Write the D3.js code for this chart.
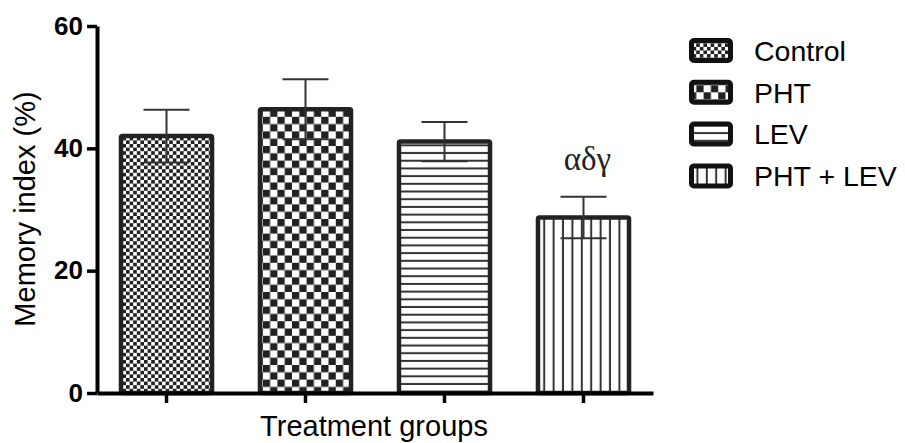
<!DOCTYPE html>
<html>
<head>
<meta charset="utf-8">
<script src="https://cdn.jsdelivr.net/npm/d3@7"></script>
<style>
  body { margin: 0; background: #fff; }
  svg { display: block; }
</style>
</head>
<body>
<div id="chart"></div>
<script>
// data
var groups = ["Control", "PHT", "LEV", "PHT + LEV"];
var means = [42.0, 46.4, 41.1, 28.7];
var errors = [4.3, 4.9, 3.2, 3.4];
var marks = ["", "", "", "αδγ"];
var yTicks = [0, 20, 40, 60];
var patterns = ["fineCheck", "bigCheck", "hLines", "vLines"];

var width = 905;
var height = 443;
var ink = "#222";

var svg = d3.select("#chart").
    append("svg").
    attr("width", width).
    attr("height", height);

// fill patterns
var defs = svg.append("defs");

function checker(id, cell) {
    var p = defs.append("pattern").
        attr("id", id).
        attr("patternUnits", "userSpaceOnUse").
        attr("width", cell * 2).
        attr("height", cell * 2);
    p.append("rect").attr("width", cell * 2).attr("height", cell * 2).attr("fill", "#fff");
    p.append("rect").attr("width", cell).attr("height", cell).attr("fill", ink);
    p.append("rect").attr("x", cell).attr("y", cell).attr("width", cell).attr("height", cell).attr("fill", ink);
}
checker("fineCheck", 3.6);
checker("bigCheck", 7.3);

var ph = defs.append("pattern").
    attr("id", "hLines").
    attr("patternUnits", "userSpaceOnUse").
    attr("width", 10).
    attr("height", 7.7);
ph.append("rect").attr("width", 10).attr("height", 7.7).attr("fill", "#fff");
ph.append("rect").attr("y", 5.7).attr("width", 10).attr("height", 2).attr("fill", "#333");

var pv = defs.append("pattern").
    attr("id", "vLines").
    attr("patternUnits", "userSpaceOnUse").
    attr("width", 9.4).
    attr("height", 10);
pv.append("rect").attr("width", 9.4).attr("height", 10).attr("fill", "#fff");
pv.append("rect").attr("x", 7.4).attr("width", 2).attr("height", 10).attr("fill", "#333");

// scales
var x = d3.scaleBand().
    domain(groups).
    range([97, 653]).
    paddingInner(0.345).
    paddingOuter(0.1725);

var y = d3.scaleLinear().
    domain([0, 60]).
    range([393, 26]);

// bars
svg.selectAll("rect.bar").
    data(groups).
    enter().
    append("rect").
    attr("class", "bar").
    attr("x", function (d) { return x(d); }).
    attr("y", function (d, i) { return y(means[i]); }).
    attr("width", x.bandwidth()).
    attr("height", function (d, i) { return y(0) - y(means[i]); }).
    attr("rx", 1.5).
    attr("fill", function (d, i) { return "url(#" + patterns[i] + ")"; }).
    attr("stroke", ink).
    attr("stroke-width", 4.5);

// error bars
var capW = 46;
var eb = svg.selectAll("g.err").
    data(groups).
    enter().
    append("g").
    attr("class", "err").
    attr("stroke", "#333").
    attr("stroke-width", 2);

eb.append("line").
    attr("x1", function (d) { return x(d) + x.bandwidth() / 2; }).
    attr("x2", function (d) { return x(d) + x.bandwidth() / 2; }).
    attr("y1", function (d, i) { return y(means[i] + errors[i]); }).
    attr("y2", function (d, i) { return y(means[i] - errors[i]); });

eb.append("line").
    attr("x1", function (d) { return x(d) + x.bandwidth() / 2 - capW / 2; }).
    attr("x2", function (d) { return x(d) + x.bandwidth() / 2 + capW / 2; }).
    attr("y1", function (d, i) { return y(means[i] + errors[i]); }).
    attr("y2", function (d, i) { return y(means[i] + errors[i]); });

eb.append("line").
    attr("x1", function (d) { return x(d) + x.bandwidth() / 2 - capW / 2; }).
    attr("x2", function (d) { return x(d) + x.bandwidth() / 2 + capW / 2; }).
    attr("y1", function (d, i) { return y(means[i] - errors[i]); }).
    attr("y2", function (d, i) { return y(means[i] - errors[i]); });

// significance marks
svg.selectAll("text.mark").
    data(groups).
    enter().
    append("text").
    attr("class", "mark").
    attr("x", function (d) { return x(d) + x.bandwidth() / 2 + 4; }).
    attr("y", function (d, i) { return y(means[i] + errors[i]) - 27; }).
    attr("text-anchor", "middle").
    attr("font-family", "Liberation Serif, serif").
    attr("font-size", 33).
    attr("fill", ink).
    text(function (d, i) { return marks[i]; });

// axes
var yAxis = d3.axisLeft(y).
    tickValues(yTicks).
    tickSize(10).
    tickSizeOuter(0).
    tickPadding(4);

var gy = svg.append("g").
    attr("transform", "translate(97,0)").
    call(yAxis);

var xAxis = d3.axisBottom(x).
    tickSize(10).
    tickSizeOuter(0).
    tickFormat("");

var gx = svg.append("g").
    attr("transform", "translate(0,393)").
    call(xAxis);

[gy, gx].forEach(function (g) {
    g.select(".domain").attr("stroke", "#000").attr("stroke-width", 4);
    g.selectAll(".tick line").attr("stroke", "#000").attr("stroke-width", 3.5);
});

gy.selectAll(".tick text").
    attr("font-family", "Liberation Sans, Arial, sans-serif").
    attr("font-weight", "bold").
    attr("font-size", 26).
    attr("fill", "#000");

// axis titles
svg.append("text").
    attr("transform", "translate(35,209) rotate(-90)").
    attr("text-anchor", "middle").
    attr("font-family", "Liberation Sans, Arial, sans-serif").
    attr("font-size", 29).
    text("Memory index (%)");

svg.append("text").
    attr("x", 374).
    attr("y", 436).
    attr("text-anchor", "middle").
    attr("font-family", "Liberation Sans, Arial, sans-serif").
    attr("font-size", 29).
    text("Treatment groups");

// legend
var legend = svg.selectAll("g.legend").
    data(groups).
    enter().
    append("g").
    attr("class", "legend").
    attr("transform", function (d, i) {
        return "translate(689," + (50.5 + i * 41.8) + ")";
    });

legend.append("rect").
    attr("x", 2.5).
    attr("y", -10).
    attr("width", 39).
    attr("height", 20).
    attr("rx", 2.5).
    attr("fill", function (d, i) { return "url(#" + patterns[i] + ")"; }).
    attr("stroke", "#111").
    attr("stroke-width", 5);

legend.append("text").
    attr("x", 65).
    attr("y", 0).
    attr("dy", "0.36em").
    attr("font-family", "Liberation Sans, Arial, sans-serif").
    attr("font-size", 28.5).
    text(function (d) { return d; });
</script>
</body>
</html>
